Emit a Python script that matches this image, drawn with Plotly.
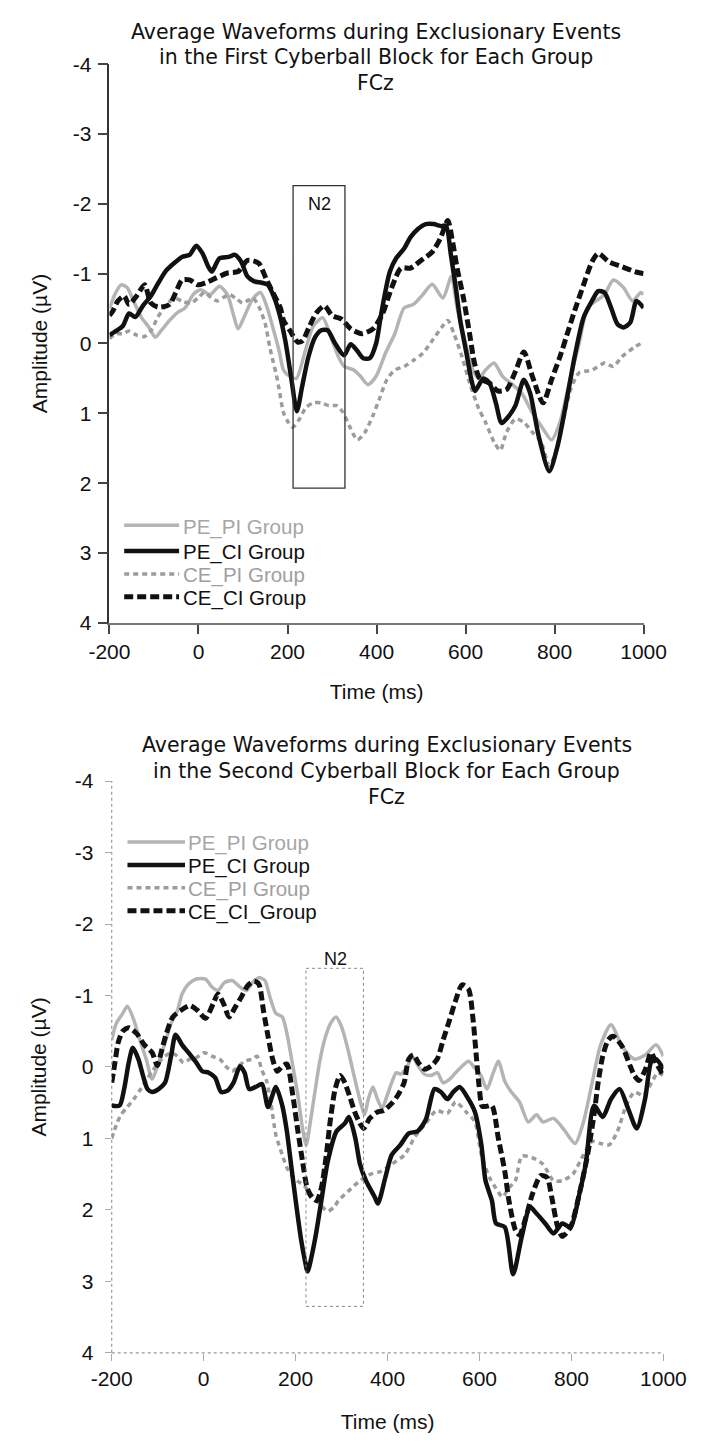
import plotly.graph_objects as go

# ------------------------------------------------------------------
# DATA  (time in ms, amplitude in microvolts)
# ------------------------------------------------------------------
# Top panel: First Cyberball block
t1_pe_pi = [-200, -188, -174, -160, -146, -128, -111, -97, -83, -65, -48, -30, -12, 5, 26,
            47, 65, 79, 89, 104, 121, 139, 153, 167, 181, 191, 205, 220, 240, 258,
            279, 297, 315, 328, 349, 364, 381, 399, 420, 441, 462, 483, 504, 525, 549,
            568, 581, 602, 616, 630, 645, 664, 683, 702, 726, 750, 774, 793, 812, 831,
            855, 874, 893, 912, 932, 955, 975, 994, 1000]
v1_pe_pi = [-0.50, -0.70, -0.84, -0.80, -0.61, -0.37, -0.23, -0.09, -0.19, -0.33, -0.44, -0.51, -0.70, -0.77, -0.70,
            -0.82, -0.70, -0.40, -0.21, -0.40, -0.63, -0.73, -0.54, -0.23, 0.10, 0.38, 0.47, 0.50, 0.10, -0.25,
            -0.37, -0.10, 0.20, 0.33, 0.38, 0.47, 0.59, 0.47, 0.14, -0.14, -0.51, -0.56, -0.70, -0.85, -0.65,
            -0.96, -0.51, 0.05, 0.38, 0.50, 0.38, 0.28, 0.47, 0.57, 0.71, 0.99, 1.22, 1.38, 1.13, 0.61,
            0.00, -0.51, -0.61, -0.70, -0.91, -0.80, -0.61, -0.73, -0.70]

t1_pe_ci = [-200, -185, -170, -156, -142, -125, -107, -90, -72, -55, -37, -20, -5, 9, 22,
            30, 47, 68, 82, 96, 110, 125, 142, 156, 170, 182, 195, 209, 221, 233,
            247, 262, 276, 290, 307, 327, 342, 356, 370, 385, 399, 409, 420, 430, 444,
            462, 476, 493, 511, 528, 546, 556, 567, 578, 588, 602, 613, 621, 640, 654,
            668, 681, 697, 712, 731, 745, 764, 788, 807, 826, 845, 865, 884, 898, 912,
            927, 941, 955, 970, 984, 1000]
v1_pe_ci = [-0.12, -0.18, -0.25, -0.43, -0.38, -0.54, -0.68, -0.87, -1.05, -1.15, -1.24, -1.27, -1.40, -1.29, -1.10,
            -1.03, -1.22, -1.24, -1.27, -1.17, -0.96, -0.89, -0.87, -0.84, -0.66, -0.42, -0.04, 0.52, 0.97, 0.61,
            0.19, -0.09, -0.19, -0.19, 0.00, 0.17, 0.01, 0.10, 0.21, 0.21, 0.00, -0.37, -0.75, -1.03, -1.22,
            -1.36, -1.52, -1.64, -1.71, -1.71, -1.68, -1.69, -1.27, -0.80, -0.33, 0.14, 0.52, 0.68, 0.50, 0.57,
            0.85, 1.14, 1.04, 0.89, 0.52, 0.71, 1.32, 1.83, 1.46, 0.85, 0.19, -0.37, -0.61, -0.75, -0.73,
            -0.51, -0.28, -0.23, -0.30, -0.61, -0.51]

t1_ce_pi = [-200, -185, -170, -156, -139, -121, -105, -92, -72, -54, -35, -16, 0, 13, 28,
            42, 56, 70, 85, 99, 112, 123, 137, 150, 160, 167, 174, 181, 191, 202,
            212, 227, 241, 258, 276, 293, 311, 325, 339, 357, 374, 392, 406, 423, 441,
            462, 483, 504, 525, 546, 560, 574, 592, 609, 630, 645, 664, 678, 692, 712,
            731, 750, 769, 788, 800, 817, 836, 855, 884, 912, 932, 951, 980, 1000]
v1_ce_pi = [-0.07, -0.14, -0.14, -0.18, -0.12, -0.10, -0.20, -0.37, -0.55, -0.65, -0.60, -0.58, -0.66, -0.73, -0.66,
            -0.61, -0.66, -0.70, -0.64, -0.58, -0.62, -0.65, -0.51, -0.28, 0.05, 0.24, 0.42, 0.65, 0.99, 1.13,
            1.20, 1.08, 0.92, 0.85, 0.85, 0.89, 0.89, 0.99, 1.18, 1.38, 1.27, 1.03, 0.80, 0.52, 0.38,
            0.33, 0.24, 0.14, -0.04, -0.23, -0.33, -0.14, 0.19, 0.56, 0.94, 1.13, 1.41, 1.53, 1.27, 1.08,
            1.13, 1.27, 1.40, 1.75, 1.60, 1.18, 0.66, 0.42, 0.38, 0.28, 0.33, 0.19, 0.05, -0.02]

t1_ce_ci = [-200, -192, -181, -167, -156, -139, -121, -107, -90, -65, -51, -37, -20, -2, 16,
            40, 65, 89, 110, 135, 153, 167, 184, 191, 205, 223, 234, 248, 265, 283,
            300, 321, 342, 367, 392, 413, 434, 455, 476, 500, 525, 543, 560, 571, 581,
            595, 609, 620, 632, 654, 673, 692, 712, 731, 750, 774, 793, 812, 831, 845,
            865, 884, 898, 922, 951, 980, 1000]
v1_ce_ci = [-0.40, -0.47, -0.61, -0.68, -0.56, -0.68, -0.84, -0.58, -0.52, -0.56, -0.73, -0.91, -0.91, -0.84, -0.87,
            -0.94, -1.01, -1.03, -1.19, -1.15, -0.91, -0.73, -0.51, -0.33, -0.19, -0.02, -0.04, -0.23, -0.44, -0.54,
            -0.40, -0.35, -0.21, -0.14, -0.21, -0.42, -0.80, -1.08, -1.08, -1.19, -1.31, -1.50, -1.76, -1.45, -1.08,
            -0.66, -0.14, 0.28, 0.50, 0.57, 0.68, 0.66, 0.40, 0.12, 0.47, 0.85, 0.52, 0.19, -0.19, -0.47,
            -0.84, -1.17, -1.29, -1.17, -1.10, -1.03, -1.00]

# Bottom panel: Second Cyberball block
t2_pe_pi = [-200, -190, -176, -166, -152, -139, -125, -112, -98, -84, -71, -57, -47, -33, -16,
            4, 18, 31, 45, 62, 79, 93, 106, 120, 133, 144, 157, 171, 181, 194,
            205, 215, 223, 232, 242, 252, 263, 276, 288, 300, 314, 327, 341, 350, 358,
            368, 378, 388, 399, 409, 419, 429, 443, 453, 467, 480, 494, 508, 521, 535,
            548, 562, 576, 589, 603, 616, 630, 641, 655, 669, 687, 706, 724, 738, 761,
            784, 808, 826, 845, 863, 886, 910, 937, 961, 984, 1000]
v2_pe_pi = [-0.38, -0.61, -0.75, -0.85, -0.66, -0.38, -0.11, 0.17, -0.06, -0.34, -0.61, -0.79, -1.02, -1.16, -1.23,
            -1.23, -1.12, -1.07, -1.18, -1.21, -1.12, -1.07, -1.18, -1.25, -1.21, -0.98, -0.75, -0.70, -0.47, -0.01,
            0.40, 0.86, 1.09, 0.77, 0.35, -0.06, -0.38, -0.61, -0.70, -0.56, -0.24, 0.12, 0.49, 0.67, 0.45,
            0.28, 0.45, 0.58, 0.40, 0.22, 0.08, 0.10, -0.01, -0.15, -0.01, 0.10, 0.12, 0.08, 0.22, 0.17,
            0.08, -0.01, -0.08, 0.01, 0.12, 0.31, 0.08, -0.08, 0.20, 0.35, 0.49, 0.77, 0.67, 0.77, 0.72,
            0.88, 1.07, 0.77, 0.22, -0.30, -0.59, -0.29, -0.11, -0.17, -0.31, -0.15]

t2_pe_ci = [-200, -183, -173, -163, -154, -142, -132, -122, -112, -98, -84, -71, -61, -47, -33,
            -16, -3, 11, 25, 38, 52, 65, 79, 89, 99, 113, 127, 140, 157, 171,
            181, 191, 201, 212, 220, 226, 242, 256, 270, 289, 307, 316, 330, 340, 353,
            372, 379, 395, 409, 428, 446, 465, 483, 502, 516, 530, 543, 557, 576, 590,
            604, 613, 627, 636, 655, 673, 692, 710, 724, 743, 761, 780, 798, 817, 831,
            849, 868, 886, 905, 923, 942, 960, 974, 984, 1000]
v2_pe_ci = [0.54, 0.54, 0.31, -0.06, -0.27, -0.11, 0.12, 0.31, 0.35, 0.31, 0.22, -0.15, -0.45, -0.31, -0.20,
            -0.06, 0.06, 0.08, 0.15, 0.35, 0.33, 0.22, -0.01, 0.08, 0.31, 0.28, 0.24, 0.56, 0.28, 0.54,
            0.90, 1.41, 1.91, 2.42, 2.70, 2.86, 2.42, 1.87, 1.32, 0.90, 0.79, 0.70, 1.00, 1.36, 1.59,
            1.82, 1.91, 1.55, 1.23, 1.09, 0.93, 0.90, 0.74, 0.31, 0.35, 0.45, 0.35, 0.28, 0.45, 0.63,
            1.09, 1.59, 1.87, 2.19, 2.24, 2.90, 2.37, 1.96, 2.05, 2.19, 2.33, 2.19, 2.24, 1.78, 1.36,
            0.54, 0.70, 0.45, 0.31, 0.58, 0.86, 0.45, -0.08, -0.11, 0.03]

t2_ce_pi = [-200, -190, -180, -166, -152, -139, -125, -112, -98, -84, -71, -57, -44, -30, -16,
            1, 18, 35, 48, 62, 76, 89, 106, 116, 127, 137, 147, 157, 171, 181,
            192, 205, 215, 230, 250, 270, 285, 293, 316, 340, 363, 386, 409, 437, 460,
            483, 506, 530, 548, 571, 590, 604, 622, 636, 650, 664, 678, 692, 715, 738,
            761, 780, 803, 826, 845, 863, 882, 900, 919, 937, 956, 974, 988, 1000]
v2_ce_pi = [1.00, 0.81, 0.67, 0.56, 0.45, 0.33, 0.19, 0.06, -0.06, -0.15, -0.20, -0.15, -0.06, -0.11, -0.13,
            -0.20, -0.15, -0.11, -0.01, 0.06, -0.01, -0.08, -0.11, -0.15, 0.05, 0.20, 0.54, 0.95, 1.23, 1.41,
            1.52, 1.60, 1.64, 1.75, 1.90, 2.02, 1.95, 1.87, 1.73, 1.59, 1.50, 1.46, 1.36, 1.23, 0.97,
            0.79, 0.61, 0.65, 0.49, 0.63, 0.77, 1.23, 1.55, 1.70, 1.82, 1.69, 1.59, 1.25, 1.27, 1.36,
            1.59, 1.59, 1.50, 1.23, 1.04, 1.07, 1.09, 0.90, 0.54, 0.35, 0.40, 0.22, 0.08, 0.12]

t2_ce_ci = [-200, -193, -186, -176, -163, -146, -129, -112, -101, -91, -81, -67, -50, -30, -13,
            4, 21, 31, 45, 55, 69, 82, 96, 110, 120, 130, 140, 150, 160, 171,
            181, 194, 205, 215, 225, 235, 246, 256, 266, 276, 286, 297, 307, 317, 331,
            348, 361, 378, 392, 409, 422, 436, 446, 456, 467, 480, 494, 508, 521, 535,
            548, 562, 576, 586, 593, 599, 606, 616, 627, 641, 655, 664, 678, 687, 701,
            715, 733, 747, 757, 770, 780, 798, 817, 835, 849, 858, 868, 880, 891, 910,
            928, 937, 947, 961, 973, 984, 1000]
v2_ce_ci = [0.22, -0.06, -0.34, -0.50, -0.55, -0.47, -0.31, -0.20, -0.02, -0.24, -0.47, -0.70, -0.79, -0.86, -0.79,
            -0.68, -0.89, -1.02, -0.86, -0.70, -0.84, -0.98, -1.14, -1.20, -1.16, -0.79, -0.43, -0.11, 0.06, -0.01,
            -0.04, 0.40, 0.90, 1.32, 1.69, 1.82, 1.87, 1.69, 1.27, 0.72, 0.31, 0.12, 0.22, 0.40, 0.67,
            0.86, 0.72, 0.63, 0.61, 0.51, 0.40, 0.22, -0.11, -0.17, -0.06, 0.03, -0.01, -0.11, -0.38, -0.66,
            -0.93, -1.15, -1.09, -0.66, -0.15, 0.26, 0.55, 0.55, 0.54, 1.00, 1.46, 1.87, 2.28, 2.35, 2.10,
            1.78, 1.52, 1.55, 1.82, 2.24, 2.37, 2.24, 1.78, 1.23, 0.67, 0.22, -0.15, -0.38, -0.43, -0.29,
            -0.01, 0.12, 0.19, 0.03, -0.20, -0.06, 0.12]

# N2 time windows (ms) and box amplitude extents (µV)
n2_top_ms = [212.5, 329]
n2_top_uv = [-2.26, 2.07]
n2_bot_ms = [222.5, 347.5]
n2_bot_uv = [-1.38, 3.35]

# Tick labels
x_ticks = [-200, 0, 200, 400, 600, 800, 1000]
x_tick_labels = ["-200", "0", "200", "400", "600", "800", "1000"]
y_ticks = [-4, -3, -2, -1, 0, 1, 2, 3, 4]
y_tick_labels = ["-4", "-3", "-2", "-1", "0", "1", "2", "3", "4"]

group_keys = ["PE_PI", "PE_CI", "CE_PI", "CE_CI"]
legend_top = ["PE_PI Group", "PE_CI Group", "CE_PI Group", "CE_CI Group"]
legend_bot = ["PE_PI Group", "PE_CI Group", "CE_PI Group", "CE_CI_Group"]

title_top = ["Average Waveforms during Exclusionary Events",
             "in the First Cyberball Block for Each Group", "FCz"]
title_bot = ["Average Waveforms during Exclusionary Events",
             "in the Second Cyberball Block for Each Group", "FCz"]

for a, b in [(t1_pe_pi, v1_pe_pi), (t1_pe_ci, v1_pe_ci), (t1_ce_pi, v1_ce_pi), (t1_ce_ci, v1_ce_ci),
             (t2_pe_pi, v2_pe_pi), (t2_pe_ci, v2_pe_ci), (t2_ce_pi, v2_ce_pi), (t2_ce_ci, v2_ce_ci)]:
    assert len(a) == len(b), (len(a), len(b))

# ------------------------------------------------------------------
# STYLE / LAYOUT
# ------------------------------------------------------------------
W, H = 711, 1447


def fx(px):
    return px / W


def fy(py):
    return 1 - py / H


line_styles = {
    "PE_PI": dict(color="#b4b4b4", width=3.5, dash="solid"),
    "PE_CI": dict(color="#111111", width=4.5, dash="solid"),
    "CE_PI": dict(color="#9c9c9c", width=3.5, dash="5px,4px"),
    "CE_CI": dict(color="#111111", width=5, dash="9px,4px"),
}
text_colors = {"PE_PI": "#a6a6a6", "PE_CI": "#111111", "CE_PI": "#a0a0a0", "CE_CI": "#111111"}

SANS = "Liberation Sans, Arial, sans-serif"
TITLE_FONT = "DejaVu Sans, Verdana, sans-serif"

fig = go.Figure()

top_series = {"PE_PI": (t1_pe_pi, v1_pe_pi), "PE_CI": (t1_pe_ci, v1_pe_ci),
              "CE_PI": (t1_ce_pi, v1_ce_pi), "CE_CI": (t1_ce_ci, v1_ce_ci)}
bot_series = {"PE_PI": (t2_pe_pi, v2_pe_pi), "PE_CI": (t2_pe_ci, v2_pe_ci),
              "CE_PI": (t2_ce_pi, v2_ce_pi), "CE_CI": (t2_ce_ci, v2_ce_ci)}

draw_order = ["PE_PI", "CE_PI", "CE_CI", "PE_CI"]
for key in draw_order:
    t, v = top_series[key]
    fig.add_trace(go.Scatter(x=t, y=v, mode="lines", name=legend_top[group_keys.index(key)],
                             line=dict(**line_styles[key], shape="spline", smoothing=0.7),
                             xaxis="x", yaxis="y", showlegend=False, hoverinfo="skip"))
for key in draw_order:
    t, v = bot_series[key]
    fig.add_trace(go.Scatter(x=t, y=v, mode="lines", name=legend_bot[group_keys.index(key)],
                             line=dict(**line_styles[key], shape="spline", smoothing=0.7),
                             xaxis="x2", yaxis="y2", showlegend=False, hoverinfo="skip"))

tickfont = dict(family=SANS, size=21, color="#111111")
axtitlefont = dict(family=SANS, size=21, color="#111111")

common_x = dict(range=[-200, 1000], tickvals=x_ticks, ticktext=x_tick_labels, ticks="outside",
                showgrid=False, zeroline=False, tickfont=tickfont)
common_y = dict(range=[4, -4], tickvals=y_ticks, ticktext=y_tick_labels, ticks="outside",
                showgrid=False, zeroline=False, tickfont=tickfont)

fig.update_layout(
    width=W, height=H, margin=dict(l=0, r=0, t=0, b=0),
    paper_bgcolor="white", plot_bgcolor="white", showlegend=False,
    xaxis=dict(**common_x, domain=[fx(94.3), fx(663.7)], anchor="y",
               ticklen=9, tickwidth=1.5, tickcolor="#444444",
               showline=True, linecolor="#777777", linewidth=2,
               title=dict(text="Time (ms)", font=axtitlefont, standoff=22)),
    yaxis=dict(**common_y, domain=[fy(620.7), fy(53)], anchor="x",
               ticklen=10, tickwidth=1.5, tickcolor="#444444", ticklabelstandoff=2,
               showline=True, linecolor="#333333", linewidth=1.5,
               title=dict(text="Amplitude (µV)", font=axtitlefont, standoff=19)),
    xaxis2=dict(**common_x, domain=[fx(96.7), fx(684.8)], anchor="y2",
                ticklen=7, tickwidth=1, tickcolor="#aaaaaa", showline=False,
                title=dict(text="Time (ms)", font=axtitlefont, standoff=25)),
    yaxis2=dict(**common_y, domain=[fy(1362.5), fy(781.5)], anchor="x2",
                ticklen=6, tickwidth=1, tickcolor="#aaaaaa", ticklabelstandoff=7, showline=False,
                title=dict(text="Amplitude (µV)", font=axtitlefont, standoff=22)),
)

shapes = []
annotations = []

# dotted axis lines of the lower panel
for x0, x1, y0, y1 in [(0, 0, 0, 1), (0, 1, 0, 0)]:
    shapes.append(dict(type="line", xref="x2 domain", yref="y2 domain", x0=x0, x1=x1, y0=y0, y1=y1,
                       line=dict(color="#999999", width=1.2, dash="dot"), layer="below"))

# N2 windows
shapes.append(dict(type="rect", xref="x", yref="y", x0=n2_top_ms[0], x1=n2_top_ms[1],
                   y0=n2_top_uv[0], y1=n2_top_uv[1], line=dict(color="#333333", width=1.3)))
shapes.append(dict(type="rect", xref="x2", yref="y2", x0=n2_bot_ms[0], x1=n2_bot_ms[1],
                   y0=n2_bot_uv[0], y1=n2_bot_uv[1], line=dict(color="#888888", width=1, dash="dot")))
annotations.append(dict(text="N2", xref="x", yref="y", x=sum(n2_top_ms) / 2, y=-2.0,
                        showarrow=False, font=dict(family=SANS, size=18, color="#111111")))
annotations.append(dict(text="N2", xref="x2", yref="y2", x=sum(n2_bot_ms) / 2 + 1, y=-1.51,
                        showarrow=False, font=dict(family=SANS, size=18, color="#111111")))

# Titles
for lines, cx, ys in [(title_top, 378, [20, 46, 72]), (title_bot, 390, [745, 771, 798])]:
    for txt, yy in zip(lines, ys):
        annotations.append(dict(text=txt, xref="paper", yref="paper", x=fx(cx), y=fy(yy),
                                xanchor="center", yanchor="middle", showarrow=False,
                                font=dict(family=TITLE_FONT, size=20.5, color="#111111")))

# Manual legends (line sample rows, text rows)
legend_specs = [
    (legend_top, [521.5, 547.7, 571, 594.3], [523.5, 548.5, 572, 595.5], 110, 168.5, 170.5),
    (legend_bot, [843.3, 866.7, 890, 913.3], [844.3, 867.7, 891, 914.3], 113.5, 174.8, 175.5),
]
for labels, rows, trows, sx0, sx1, tx in legend_specs:
    for key, lab, ry, ty in zip(group_keys, labels, rows, trows):
        st = dict(line_styles[key])
        shapes.append(dict(type="line", xref="paper", yref="paper", x0=fx(sx0), x1=fx(sx1),
                           y0=fy(ry), y1=fy(ry), line=st))
        annotations.append(dict(text=lab, xref="paper", yref="paper", x=fx(tx), y=fy(ty),
                                xanchor="left", yanchor="middle", showarrow=False,
                                font=dict(family=SANS, size=20.5, color=text_colors[key])))

fig.update_layout(shapes=shapes, annotations=annotations)

fig.write_html("out.html")
